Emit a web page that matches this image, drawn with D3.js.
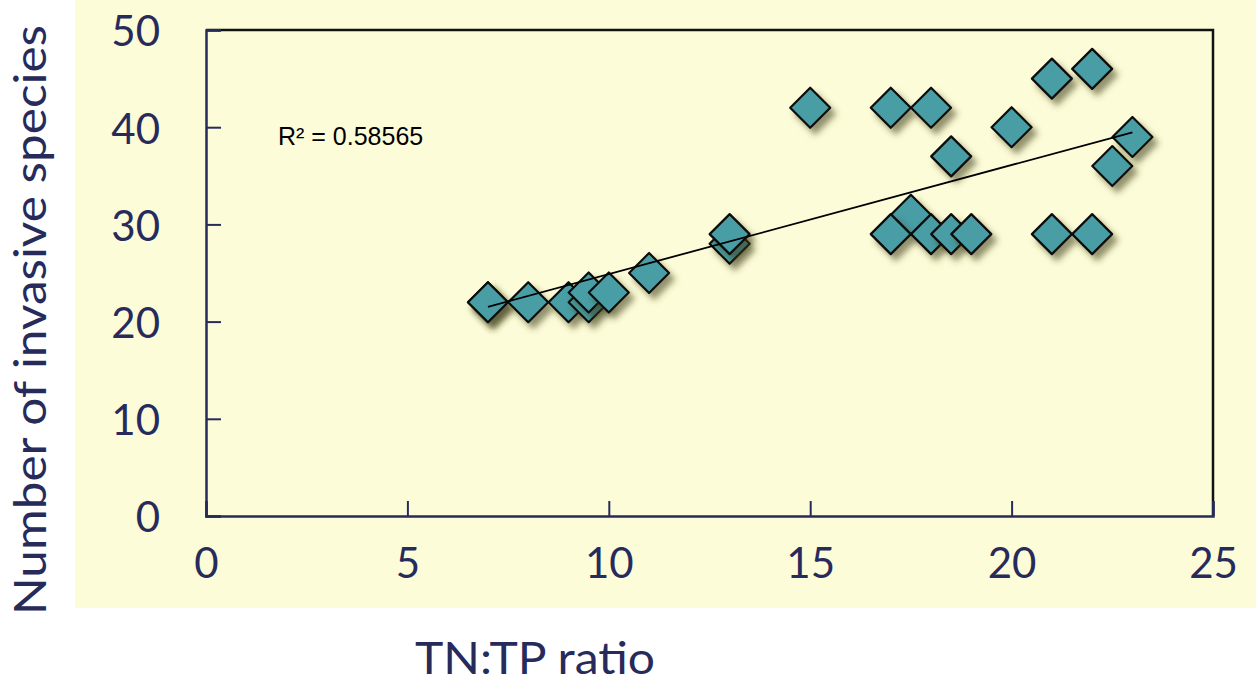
<!DOCTYPE html>
<html><head><meta charset="utf-8">
<script src="https://cdn.jsdelivr.net/npm/d3@7/dist/d3.min.js"></script>
<style>body{margin:0;background:#fff}svg{display:block}</style>
</head><body>
<svg id="c" width="1256" height="685"></svg>
<script>
const tnTp =    [7, 7, 8, 9, 9.5, 9.5, 10, 11, 13, 13, 15, 17, 18, 17.5, 17, 18, 18.5, 19, 18.5, 20, 21, 22, 21, 22, 22.5, 23];
const species = [22,22,22,22,22,  23,  23, 25, 28, 29, 42, 42, 42, 31,   29, 29, 29,   29, 37,   40, 45, 46, 29, 29, 36,   39];
const xTicks = [0, 5, 10, 15, 20, 25];
const yTicks = [0, 10, 20, 30, 40, 50];
const r2Label = "R² = 0.58565";
const xTitle = "TN:TP ratio";
const yTitle = "Number of invasive species";

const navy = "#272b5c";
const svg = d3.select("#c");
const x = d3.scaleLinear().domain([0, 25]).range([206, 1213]);
const y = d3.scaleLinear().domain([0, 50]).range([516, 30]);

svg.append("rect").attr("x", 75).attr("y", 0).attr("width", 1181).attr("height", 608).attr("fill", "#fdfcd8");

const defs = svg.append("defs");
const f = defs.append("filter").attr("id", "sh").attr("x", "-50%").attr("y", "-50%").attr("width", "200%").attr("height", "200%");
f.append("feDropShadow").attr("dx", 5).attr("dy", 6).attr("stdDeviation", 3).attr("flood-color", "#3a3a10").attr("flood-opacity", 0.55);

// frame top/right
svg.append("path").attr("d", `M${x(0)},${y(50)}H${x(25)}V${y(0)}`).attr("fill", "none").attr("stroke", "#111").attr("stroke-width", 2.5);

const xAxis = svg.append("g").attr("transform", `translate(0,${y(0)})`)
  .call(d3.axisBottom(x).tickValues(xTicks).tickSize(-15).tickPadding(32).tickFormat(d3.format("d")));
const yAxis = svg.append("g").attr("transform", `translate(${x(0)},0)`)
  .call(d3.axisLeft(y).tickValues(yTicks).tickSize(-15).tickPadding(46).tickFormat(d3.format("d")));
[xAxis, yAxis].forEach(g => {
  g.select(".domain").attr("stroke", navy).attr("stroke-width", 2.5);
  g.selectAll(".tick line").attr("stroke", navy).attr("stroke-width", 2);
  g.selectAll(".tick text").attr("fill", navy).style("font-family", "Lato, 'Open Sans', sans-serif").style("font-size", "42px");
});
yAxis.selectAll(".tick text").attr("dy", "0.38em");

// trend line (least squares)
const n = tnTp.length, mx = d3.mean(tnTp), my = d3.mean(species);
let sxy = 0, sxx = 0;
for (let i = 0; i < n; i++) { sxy += (tnTp[i]-mx)*(species[i]-my); sxx += (tnTp[i]-mx)**2; }
const b = sxy/sxx, a = my - b*mx;
const xr = d3.extent(tnTp);

const pts = svg.append("g");
const r = 20;
pts.selectAll("path").data(tnTp.map((d, i) => [d, species[i]])).join("path")
  .attr("d", d => `M${x(d[0])},${y(d[1])-r}L${x(d[0])+r},${y(d[1])}L${x(d[0])},${y(d[1])+r}L${x(d[0])-r},${y(d[1])}Z`)
  .attr("fill", "#4a9da5").attr("stroke", "#0a0a0a").attr("stroke-width", 2.2).attr("stroke-linejoin", "round")
  .attr("filter", "url(#sh)");

svg.append("line").attr("x1", x(xr[0])).attr("y1", y(a + b*xr[0])).attr("x2", x(xr[1])).attr("y2", y(a + b*xr[1]))
  .attr("stroke", "#000").attr("stroke-width", 1.8);

svg.append("text").attr("x", 278).attr("y", 145).text(r2Label)
  .style("font-family", "'Liberation Sans', Arial, sans-serif").style("font-size", "25px").attr("fill", "#000");

svg.append("text").attr("x", 535).attr("y", 674).attr("text-anchor", "middle").text(xTitle)
  .style("font-family", "Lato, sans-serif").style("font-size", "44px").attr("fill", navy)
  .attr("textLength", 240).attr("lengthAdjust", "spacingAndGlyphs");

svg.append("text").attr("transform", "translate(46,320) rotate(-90)").attr("text-anchor", "middle").text(yTitle)
  .style("font-family", "Lato, sans-serif").style("font-size", "44px").attr("fill", navy)
  .attr("textLength", 590).attr("lengthAdjust", "spacingAndGlyphs");
</script>
</body></html>
